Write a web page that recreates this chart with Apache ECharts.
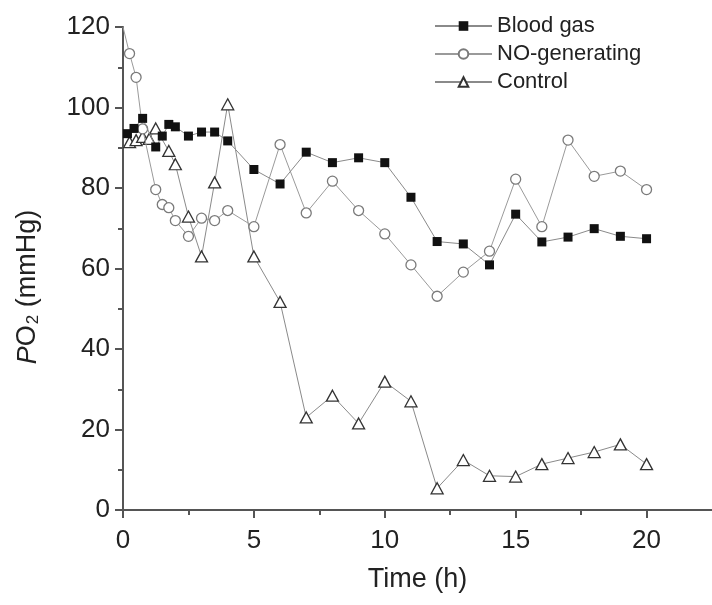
<!DOCTYPE html>
<html>
<head>
<meta charset="utf-8">
<script src="https://cdn.jsdelivr.net/npm/echarts@6/dist/echarts.min.js"></script>
<style>html,body{margin:0;padding:0;background:#fff;}#c{width:712px;height:605px;}</style>
</head>
<body>
<div id="c"></div>
<script>
// ---- data ----
var seriesNames = ['Blood gas', 'NO-generating', 'Control'];

var bloodTime = [0.17, 0.42, 0.75, 1.25, 1.5, 1.75, 2, 2.5, 3, 3.5, 4, 5, 6, 7, 8, 9, 10, 11, 12, 13, 14, 15, 16, 17, 18, 19, 20];
var bloodValues = [93.5, 94.8, 97.3, 90.2, 92.9, 95.8, 95.2, 92.9, 93.9, 93.9, 91.7, 84.6, 81.0, 88.9, 86.3, 87.5, 86.3, 77.7, 66.7, 66.1, 60.9, 73.5, 66.6, 67.8, 69.9, 68.0, 67.4];

var noTime = [0, 0.25, 0.5, 0.75, 1.25, 1.5, 1.75, 2, 2.5, 3, 3.5, 4, 5, 6, 7, 8, 9, 10, 11, 12, 13, 14, 15, 16, 17, 18, 19, 20];
var noValues = [120, 113.4, 107.5, 94.7, 79.6, 75.9, 75.1, 71.9, 68.0, 72.5, 71.9, 74.4, 70.4, 90.8, 73.8, 81.7, 74.4, 68.6, 60.9, 53.1, 59.1, 64.3, 82.2, 70.4, 91.9, 82.9, 84.2, 79.6];

var controlTime = [0, 0.25, 0.5, 0.75, 1, 1.25, 1.75, 2, 2.5, 3, 3.5, 4, 5, 6, 7, 8, 9, 10, 11, 12, 13, 14, 15, 16, 17, 18, 19, 20];
var controlValues = [90.2, 91.4, 91.9, 92.7, 92.2, 94.8, 89.2, 85.9, 72.9, 63.0, 81.4, 100.8, 63.0, 51.7, 23.0, 28.4, 21.5, 31.9, 27.0, 5.4, 12.4, 8.5, 8.3, 11.4, 12.9, 14.4, 16.3, 11.4];

var xTicks = [0, 5, 10, 15, 20];
var xMinorTicks = [2.5, 7.5, 12.5, 17.5];

// ---- build ----
function toData(times, values, hideAtZero) {
  return times.map(function (t, i) {
    var item = { value: [t, values[i]] };
    if (hideAtZero && t === 0) item.symbol = 'none';
    return item;
  });
}

var textColor = '#222';
var axisColor = '#555';
var font = 'Liberation Sans, Arial, sans-serif';

var chart = echarts.init(document.getElementById('c'), null, { renderer: 'canvas' });
chart.setOption({
  animation: false,
  backgroundColor: '#fff',
  grid: { left: 123, top: 27, width: 596, bottom: 95, containLabel: false },
  legend: {
    orient: 'vertical',
    left: 429,
    top: 10,
    itemWidth: 57,
    itemHeight: 12,
    itemGap: 6,
    data: seriesNames,
    textStyle: { fontFamily: font, fontSize: 22, color: textColor, lineHeight: 22, padding: [0, 0, 0, 0] }
  },
  xAxis: [{
    type: 'value',
    min: 0,
    max: 22.5,
    interval: 5,
    position: 'bottom',
    name: 'Time (h)',
    nameLocation: 'middle',
    nameGap: 56,
    nameTextStyle: { fontFamily: font, fontSize: 27, color: textColor },
    axisLine: { show: true, onZero: false, lineStyle: { color: axisColor, width: 2 } },
    axisTick: { show: true, length: 8, lineStyle: { color: axisColor, width: 2 }, customValues: xTicks },
    axisLabel: { fontFamily: font, fontSize: 26, color: textColor, margin: 18, customValues: xTicks },
    splitLine: { show: false }
  }, {
    type: 'value',
    min: 0,
    max: 22.5,
    interval: 2.5,
    position: 'bottom',
    axisLine: { show: false },
    axisTick: { show: true, length: 5, lineStyle: { color: axisColor, width: 2 }, customValues: xMinorTicks },
    axisLabel: { show: false },
    splitLine: { show: false }
  }],
  yAxis: {
    type: 'value',
    min: 0,
    max: 120,
    interval: 20,
    axisLine: { show: true, onZero: false, lineStyle: { color: axisColor, width: 2 } },
    axisTick: { show: true, length: 8, lineStyle: { color: axisColor, width: 2 } },
    minorTick: { show: true, splitNumber: 2, length: 5, lineStyle: { color: axisColor, width: 2 } },
    axisLabel: { fontFamily: font, fontSize: 26, color: textColor, margin: 13 },
    splitLine: { show: false }
  },
  graphic: [{
    type: 'text',
    x: 28,
    y: 287,
    rotation: Math.PI / 2,
    style: {
      text: '{i|P}{n|O}{s|2}{n| (mmHg)}',
      align: 'center',
      verticalAlign: 'middle',
      fill: textColor,
      rich: {
        i: { fontFamily: font, fontSize: 27, fontStyle: 'italic', fill: textColor },
        n: { fontFamily: font, fontSize: 27, fill: textColor },
        s: { fontFamily: font, fontSize: 17, fill: textColor, verticalAlign: 'bottom', padding: [10, 0, 0, 1] }
      }
    }
  }],
  series: [{
    name: seriesNames[0],
    type: 'line',
    data: toData(bloodTime, bloodValues, false),
    symbol: 'rect',
    symbolSize: 9,
    z: 4,
    lineStyle: { color: '#8a8a8a', width: 1 },
    itemStyle: { color: '#111', borderColor: '#111', borderWidth: 0 }
  }, {
    name: seriesNames[1],
    type: 'line',
    data: toData(noTime, noValues, true),
    symbol: 'circle',
    symbolSize: 10,
    z: 3,
    lineStyle: { color: '#9a9a9a', width: 1 },
    itemStyle: { color: '#fff', borderColor: '#7a7a7a', borderWidth: 1.3 }
  }, {
    name: seriesNames[2],
    type: 'line',
    data: toData(controlTime, controlValues, true),
    symbol: 'triangle',
    symbolSize: [12, 11],
    z: 2,
    lineStyle: { color: '#8a8a8a', width: 1 },
    itemStyle: { color: '#fff', borderColor: '#333', borderWidth: 1.3 }
  }]
});
</script>
</body>
</html>
